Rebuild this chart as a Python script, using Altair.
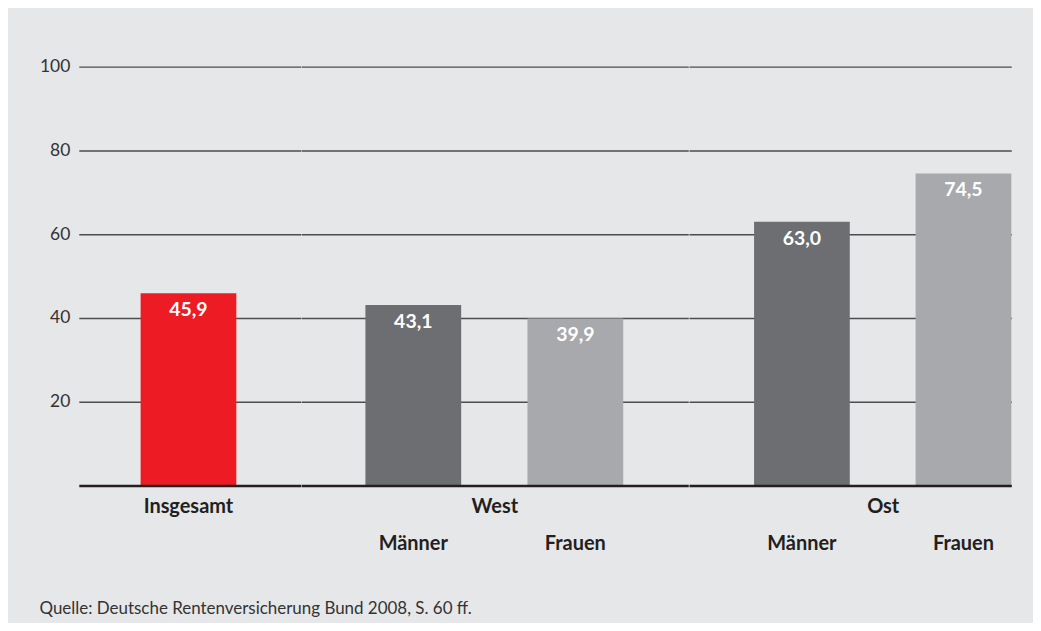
import altair as alt
import pandas as pd

# ---- data ----
groups = ["Insgesamt", "West", "West", "Ost", "Ost"]
categories = ["Insgesamt", "Männer", "Frauen", "Männer", "Frauen"]
values = [45.9, 43.1, 39.9, 63.0, 74.5]
y_ticks = [20, 40, 60, 80, 100]
source_note = "Quelle: Deutsche Rentenversicherung Bund 2008, S. 60 ff."

color_domain = ["Insgesamt", "Männer", "Frauen"]
color_range = ["#ed1c24", "#6d6e71", "#a7a9ac"]

df = pd.DataFrame({"group": groups, "cat": categories, "value": values})
df["label"] = [f"{v:.1f}".replace(".", ",") for v in values]

FONT = "Lato"
BG = "#e6e7e8"
DARK = "#231f20"
GRID = "#4d4d4f"
PLOT_H = 420
LBL = 20


def y_axis(with_labels):
    kw = dict(values=y_ticks, title=None, ticks=False, domain=False, grid=True,
              gridColor=GRID, gridWidth=1.3)
    if with_labels:
        kw.update(labelFont=FONT, labelFontSize=17.5, labelColor="#333333", labelPadding=9)
    else:
        kw.update(labels=False, labelPadding=0)
    return alt.Axis(**kw)


def x_axis(label_padding, title=None, title_x=None):
    kw = dict(labelFont=FONT, labelFontSize=LBL, labelFontWeight="bold", labelColor=DARK,
              labelPadding=label_padding, labelAngle=0, ticks=False,
              domainColor=DARK, domainWidth=2.6, zindex=1)
    if title is None:
        kw["title"] = None
    else:
        kw.update(title=title, titleFont=FONT, titleFontSize=LBL, titleFontWeight="bold",
                  titleColor=DARK, titleX=title_x, titleY=11, titleAlign="center",
                  titleBaseline="top")
    return alt.Axis(**kw)


def panel(group, domain, width, scale_kw, xax, yax):
    base = alt.Chart(df).transform_filter(alt.datum.group == group)
    x = alt.X("cat:N", sort=domain, scale=alt.Scale(domain=domain, **scale_kw), axis=xax)
    y = alt.Y("value:Q", scale=alt.Scale(domain=[0, 100], nice=False), axis=yax)
    bars = base.mark_bar().encode(
        x=x, y=y,
        color=alt.Color("cat:N", scale=alt.Scale(domain=color_domain, range=color_range), legend=None),
    )
    text = base.mark_text(baseline="top", dy=8, font=FONT, fontSize=19.5,
                          fontWeight="bold", color="white").encode(x=x, y=y, text="label:N")
    return alt.layer(bars, text).properties(width=width, height=PLOT_H)


pA = panel("Insgesamt", ["Insgesamt"], 222.5,
           dict(paddingInner=0, paddingOuter=0.659, align=0.49),
           x_axis(11), y_axis(True))
pB = panel("West", ["Männer", "Frauen"], 388.25,
           dict(paddingInner=0.409, paddingOuter=0.399, align=0.497),
           x_axis(48, "West", 193.75), y_axis(False))
pC = panel("Ost", ["Männer", "Frauen"], 323.25,
           dict(paddingInner=0.4074, paddingOuter=0.2014, align=1),
           x_axis(48, "Ost", 194.25), y_axis(False))

chart = alt.hconcat(pA, pB, pC, spacing=0, bounds="flush").properties(
    title=alt.TitleParams(text=source_note, orient="bottom", anchor="start", font=FONT,
                          fontSize=17, fontWeight="normal", color="#333333", offset=48),
    background=BG,
    padding={"left": 31, "right": 21, "top": 49, "bottom": 5},
).configure_view(stroke=None)

chart.save("out.html", embed_options={"renderer": "svg", "actions": False})
